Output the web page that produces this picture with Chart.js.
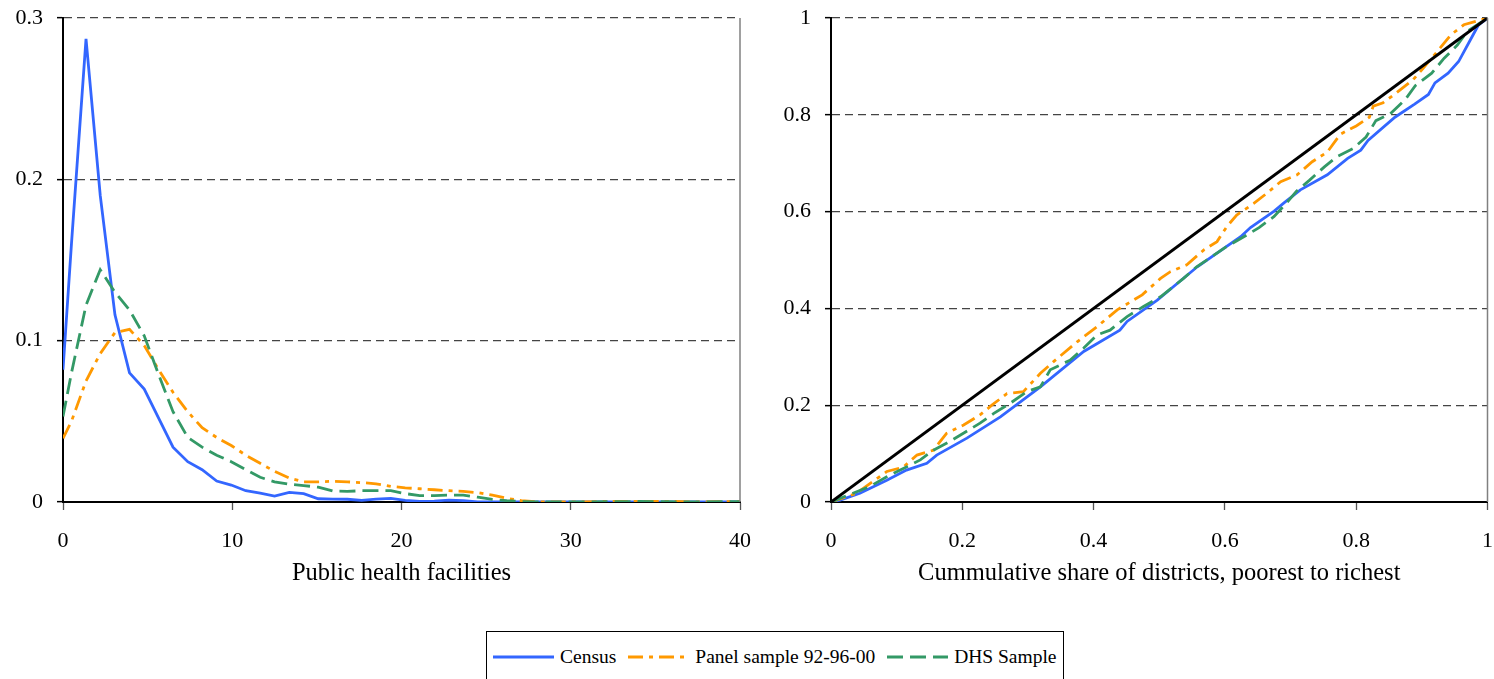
<!DOCTYPE html>
<html>
<head>
<meta charset="utf-8">
<script src="https://cdn.jsdelivr.net/npm/chart.js@4.4.1/dist/chart.umd.min.js"></script>
<style>
  body { margin: 0; background: #fff; width: 1494px; height: 679px; overflow: hidden; position: relative;
         font-family: "Liberation Serif", "Times New Roman", serif; }
  #left { position: absolute; left: 0; top: 0; }
  #right { position: absolute; left: 768px; top: 0; }
  #legend { position: absolute; left: 486px; top: 631px; width: 578px; height: 60px; box-sizing: border-box;
            border: 1px solid #000; display: flex; align-items: flex-start; padding: 14px 0 0 6px;
            font-size: 19.5px; color: #000; white-space: nowrap; }
  .item { display: flex; align-items: center; margin-right: 12px; flex-shrink: 0; }
  .item svg { margin-right: 6px; flex-shrink: 0; }
</style>
</head>
<body>
<canvas id="left" width="769" height="592"></canvas>
<canvas id="right" width="743" height="592"></canvas>
<div id="legend"></div>

<script>
// Left panel: density of public health facilities
const facilityX = [0, 0.5, 1.36, 2.2, 3.07, 3.93, 4.8, 5.65, 6.5, 7.37, 8.22, 9.08, 9.94, 10.8, 11.65, 12.5,
  13.37, 14.22, 15.08, 15.94, 16.8, 17.65, 18.5, 19.37, 20.22, 21.08, 21.94, 22.8, 23.65, 24.5, 25.37, 26.22,
  27.08, 27.94, 28.8, 30.5, 32.2, 34, 35.7, 37.4, 39.1, 40];
const censusDensity = [0.082, 0.16, 0.287, 0.19, 0.116, 0.08, 0.07, 0.052, 0.034, 0.025, 0.02, 0.013, 0.0105,
  0.007, 0.0055, 0.0037, 0.006, 0.0052, 0.002, 0.0018, 0.0017, 0.001, 0.0018, 0.0022, 0.001, 0.0003, 0.0006,
  0.0012, 0.0009, 0, 0, 0, 0, 0, 0, 0, 0, 0, 0, 0, 0, 0];
const panelDensity = [0.0395, 0.05, 0.075, 0.092, 0.105, 0.107, 0.097, 0.082, 0.068, 0.056, 0.046, 0.04, 0.035,
  0.029, 0.024, 0.019, 0.0148, 0.0125, 0.0125, 0.0128, 0.0125, 0.012, 0.0113, 0.0097, 0.0088, 0.0082, 0.0076,
  0.007, 0.0066, 0.0058, 0.0042, 0.0023, 0.0008, 0.0002, 0, 0, 0.0004, 0.0003, 0.0004, 0, 0.0003, 0.0002];
const dhsDensity = [0.053, 0.08, 0.122, 0.144, 0.13, 0.119, 0.103, 0.079, 0.056, 0.04, 0.034, 0.029, 0.025,
  0.02, 0.0153, 0.0125, 0.011, 0.0102, 0.0092, 0.0068, 0.0066, 0.007, 0.007, 0.007, 0.0052, 0.004, 0.004,
  0.0043, 0.0043, 0.003, 0.0016, 0.0008, 0.0003, 0.0001, 0, 0, 0.0002, 0.0003, 0.0002, 0, 0.0002, 0.0002];

// Right panel: cumulative share of districts, poorest to richest
const censusShareX = [0, 0.014, 0.044, 0.085, 0.115, 0.146, 0.161, 0.207, 0.258, 0.319, 0.385, 0.44, 0.451,
  0.497, 0.558, 0.624, 0.639, 0.675, 0.69, 0.715, 0.756, 0.787, 0.807, 0.818, 0.859, 0.889, 0.91, 0.92, 0.94,
  0.956, 0.974, 0.986, 1];
const censusShareY = [0, 0.004, 0.018, 0.045, 0.066, 0.08, 0.097, 0.132, 0.176, 0.238, 0.311, 0.355, 0.373,
  0.417, 0.486, 0.548, 0.567, 0.601, 0.618, 0.645, 0.676, 0.71, 0.727, 0.747, 0.795, 0.822, 0.842, 0.866, 0.886,
  0.91, 0.955, 0.985, 1];
const panelShareX = [0, 0.039, 0.085, 0.11, 0.131, 0.156, 0.176, 0.202, 0.227, 0.245, 0.268, 0.293, 0.319,
  0.339, 0.375, 0.405, 0.436, 0.474, 0.502, 0.517, 0.542, 0.568, 0.588, 0.603, 0.618, 0.644, 0.664, 0.685, 0.71,
  0.733, 0.756, 0.776, 0.8, 0.82, 0.826, 0.841, 0.861, 0.887, 0.9, 0.923, 0.944, 0.964, 1];
const panelShareY = [0, 0.018, 0.063, 0.072, 0.097, 0.107, 0.142, 0.159, 0.18, 0.2, 0.224, 0.228, 0.266,
  0.29, 0.331, 0.362, 0.397, 0.428, 0.462, 0.476, 0.49, 0.521, 0.538, 0.569, 0.593, 0.617, 0.638, 0.662, 0.676,
  0.703, 0.723, 0.76, 0.777, 0.795, 0.818, 0.825, 0.845, 0.873, 0.893, 0.93, 0.965, 0.986, 1];
const dhsShareX = [0, 0.059, 0.085, 0.136, 0.156, 0.181, 0.227, 0.248, 0.273, 0.298, 0.319, 0.334, 0.364, 0.385,
  0.405, 0.425, 0.451, 0.476, 0.502, 0.537, 0.557, 0.603, 0.634, 0.652, 0.675, 0.694, 0.709, 0.729, 0.752, 0.77,
  0.795, 0.815, 0.83, 0.852, 0.875, 0.89, 0.915, 0.934, 0.954, 0.969, 1];
const dhsShareY = [0, 0.032, 0.052, 0.087, 0.107, 0.125, 0.163, 0.183, 0.204, 0.228, 0.238, 0.273, 0.293, 0.318,
  0.345, 0.355, 0.383, 0.404, 0.424, 0.462, 0.486, 0.528, 0.552, 0.567, 0.59, 0.618, 0.642, 0.665, 0.693, 0.713,
  0.73, 0.754, 0.788, 0.802, 0.832, 0.86, 0.886, 0.917, 0.944, 0.972, 1];
const equalityX = [0, 1];
const equalityY = [0, 1];

const seriesNames = ['Census', 'Panel sample 92-96-00', 'DHS Sample'];
const seriesColors = ['#3366ff', '#ff9900', '#339966'];
const seriesDash = [[], [15, 6, 4, 6], [16, 7]];

const FONT = '"Liberation Serif", "Times New Roman", serif';
Chart.defaults.font.family = FONT;
Chart.defaults.color = '#000';

const pts = (xs, ys) => xs.map((x, i) => ({ x: x, y: ys[i] }));
const fmt = v => String(Math.round(v * 10) / 10);

// solid grey line on the right edge of the plot area
const rightFrame = {
    id: 'rightFrame',
    afterDatasetsDraw(chart) {
        const { ctx, chartArea: a } = chart;
        ctx.save();
        ctx.strokeStyle = '#808080';
        ctx.lineWidth = 1.5;
        ctx.beginPath();
        ctx.moveTo(a.right, a.top);
        ctx.lineTo(a.right, a.bottom);
        ctx.stroke();
        ctx.restore();
    }
};

function seriesDataset(i, data, order) {
    return {
        label: seriesNames[i],
        data: data,
        borderColor: seriesColors[i],
        borderDash: seriesDash[i],
        borderWidth: 2.8,
        pointRadius: 0,
        tension: 0,
        fill: false,
        order: order
    };
}

function makeOptions(xMax, xStep, yMax, yStep, title, padRight) {
    return {
        responsive: false,
        animation: false,
        layout: { padding: { top: 18, right: padRight, left: 0, bottom: 0 } },
        plugins: { legend: { display: false }, tooltip: { enabled: false } },
        scales: {
            x: {
                type: 'linear', min: 0, max: xMax,
                ticks: { stepSize: xStep, padding: 18, font: { size: 22 }, callback: fmt },
                grid: { drawOnChartArea: false, tickLength: 8, tickColor: '#555', tickWidth: 1.3 },
                border: { color: '#000', width: 2 },
                title: { display: true, text: title, font: { size: 24.5 }, padding: { top: 4, bottom: 4 } },
                afterFit: s => { s.height = 90; }
            },
            y: {
                min: 0, max: yMax,
                ticks: { stepSize: yStep, padding: 14, font: { size: 22 }, callback: fmt },
                grid: {
                    color: c => (c.tick && c.tick.value === 0) ? 'rgba(0,0,0,0)' : '#444',
                    lineWidth: 1.3, tickLength: 6, tickColor: '#000', tickWidth: 1.5
                },
                border: { color: '#000', width: 2, dash: [8, 5] },
                afterFit: s => { s.width = 63; s.paddingTop = 0; s.paddingBottom = 0; }
            }
        }
    };
}

new Chart(document.getElementById('left'), {
    type: 'line',
    data: {
        datasets: [
            seriesDataset(0, pts(facilityX, censusDensity), 3),
            seriesDataset(1, pts(facilityX, panelDensity), 2),
            seriesDataset(2, pts(facilityX, dhsDensity), 1)
        ]
    },
    options: makeOptions(40, 10, 0.3, 0.1, 'Public health facilities', 13),
    plugins: [rightFrame]
});

new Chart(document.getElementById('right'), {
    type: 'line',
    data: {
        datasets: [
            seriesDataset(0, pts(censusShareX, censusShareY), 3),
            seriesDataset(1, pts(panelShareX, panelShareY), 2),
            seriesDataset(2, pts(dhsShareX, dhsShareY), 1),
            { label: 'Equality', data: pts(equalityX, equalityY), borderColor: '#000', borderWidth: 3,
              pointRadius: 0, fill: false, order: 0 }
        ]
    },
    options: makeOptions(1, 0.2, 1, 0.2, 'Cummulative share of districts, poorest to richest', 7),
    plugins: [rightFrame]
});

// shared legend box under both panels
const legend = document.getElementById('legend');
seriesNames.forEach((name, i) => {
    const item = document.createElement('div');
    item.className = 'item';
    item.innerHTML = '<svg width="61" height="10"><line x1="0" y1="5" x2="61" y2="5" stroke="' + seriesColors[i] +
        '" stroke-width="3" stroke-dasharray="' + (seriesDash[i].join(' ') || 'none') + '"/></svg><span>' + name + '</span>';
    legend.appendChild(item);
});
</script>
</body>
</html>
